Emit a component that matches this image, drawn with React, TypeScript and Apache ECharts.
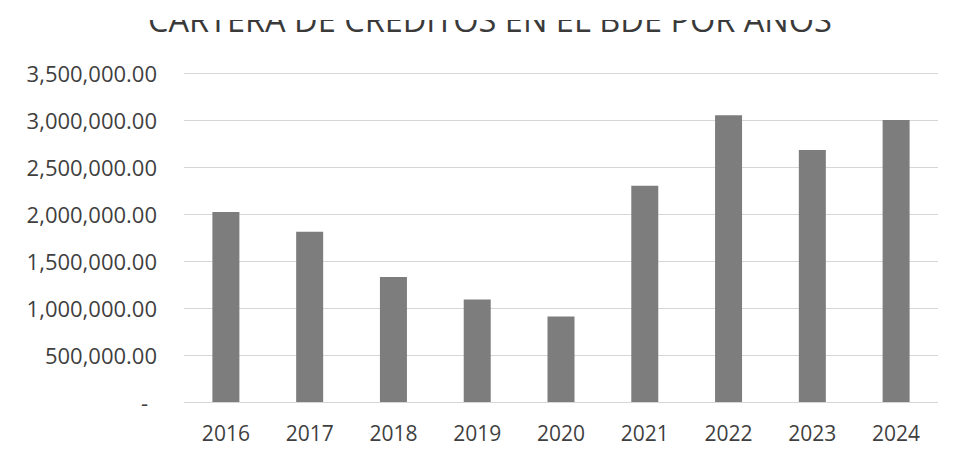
import React, { useEffect, useRef } from "react";
import * as echarts from "echarts";

const title = "CARTERA DE CRÉDITOS EN EL BDE POR AÑOS";
const years = ["2016", "2017", "2018", "2019", "2020", "2021", "2022", "2023", "2024"];
const cartera = [2020000, 1810000, 1330000, 1090000, 910000, 2300000, 3050000, 2680000, 3000000];
const yMax = 3500000;
const yStep = 500000;

function fmt(v: number): string {
  if (v === 0) return "{z|-}";
  return v.toLocaleString("en-US", { minimumFractionDigits: 2, maximumFractionDigits: 2 });
}

export default function App() {
  const ref = useRef<HTMLDivElement>(null);
  useEffect(() => {
    if (!ref.current) return;
    const chart = echarts.init(ref.current, null, { renderer: "svg" });
    chart.setOption({
      animation: false,
      backgroundColor: "#ffffff",
      title: {
        text: title,
        left: 143,
        top: -2,
        textStyle: {
          fontFamily: "Open Sans",
          fontSize: 32.5,
          fontWeight: "normal",
          color: "#3a3a3a",
        },
      },
      graphic: [
        { type: "rect", z: 100, shape: { x: 0, y: 0, width: 953, height: 20 }, style: { fill: "#ffffff" } },
        { type: "line", z: 90, shape: { x1: 3.5, y1: 0, x2: 3.5, y2: 452 }, style: { stroke: "#ebebeb", lineWidth: 1 } },
      ],
      grid: { left: 184, right: 15, top: 73, bottom: 50 },
      xAxis: {
        type: "category",
        data: years,
        axisLine: { show: false },
        axisTick: { show: false },
        axisLabel: {
          fontFamily: "Open Sans",
          fontSize: 21,
          color: "#3f3f3f",
          margin: 20,
        },
      },
      yAxis: {
        type: "value",
        min: 0,
        max: yMax,
        interval: yStep,
        axisLine: { show: false },
        axisTick: { show: false },
        splitLine: { lineStyle: { color: "#d6d6d6", width: 1 } },
        axisLabel: {
          fontFamily: "Open Sans",
          fontSize: 22,
          color: "#3f3f3f",
          margin: 27,
          formatter: fmt,
          rich: { z: { fontFamily: "Open Sans", fontSize: 22, color: "#3f3f3f", padding: [0, 9, 0, 0] } },
        },
      },
      series: [
        {
          type: "bar",
          data: cartera,
          barWidth: 27,
          itemStyle: { color: "#7d7d7d" },
        },
      ],
    });
    return () => chart.dispose();
  }, []);
  return <div ref={ref} style={{ width: 953, height: 452, margin: -8 }} />;
}
